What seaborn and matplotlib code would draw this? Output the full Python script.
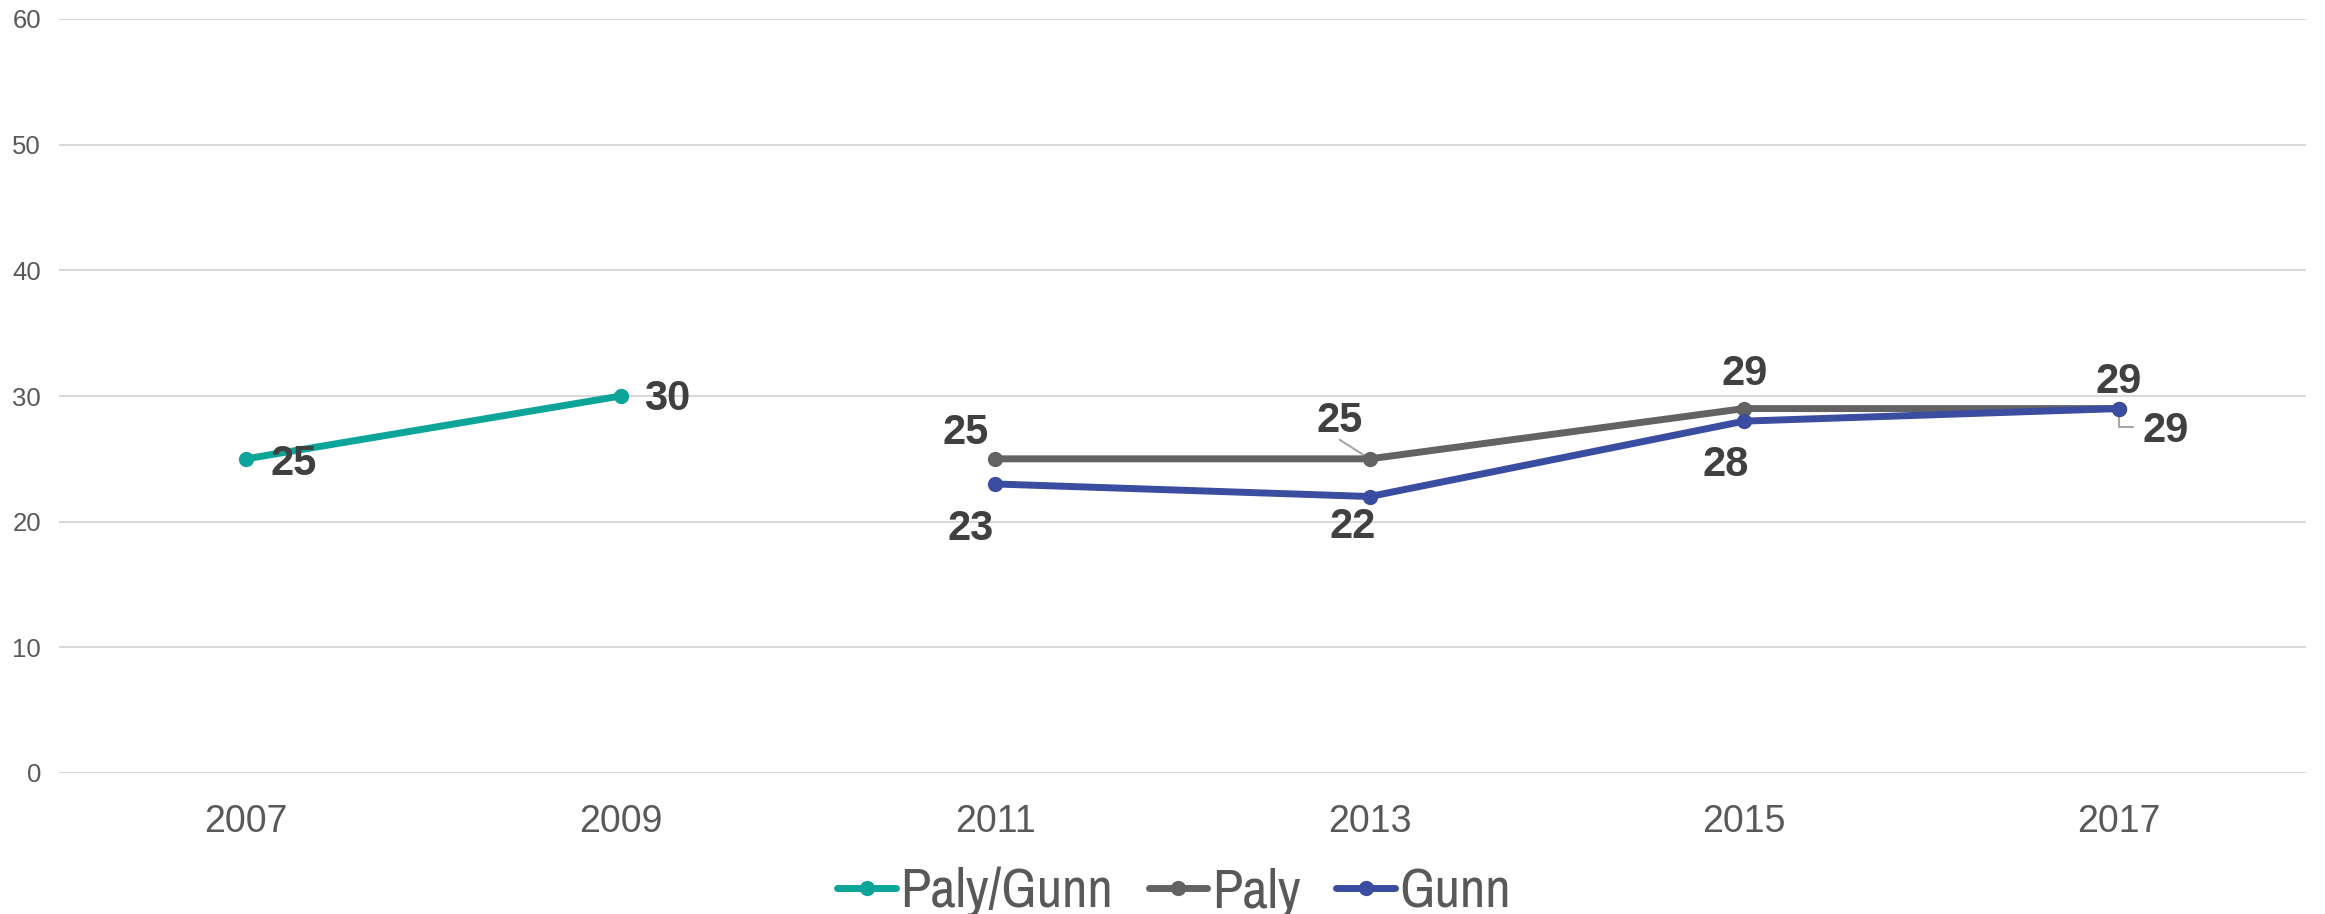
import matplotlib
matplotlib.use("Agg")
import matplotlib.pyplot as plt
import seaborn as sns
import pandas as pd

# Survey years on the category axis
years = ["2007", "2009", "2011", "2013", "2015", "2017"]

# Values per series (year labels and values)
paly_gunn_years = ["2007", "2009"]
paly_gunn_values = [25, 30]
paly_years = ["2011", "2013", "2015", "2017"]
paly_values = [25, 25, 29, 29]
gunn_years = ["2011", "2013", "2015", "2017"]
gunn_values = [23, 22, 28, 29]

series_names = ["Paly/Gunn", "Paly", "Gunn"]
series_colors = ["#0DA59A", "#636363", "#3A4DA0"]

y_ticks = [0, 10, 20, 30, 40, 50, 60]

rows = []
for name, yrs, vals in [("Paly/Gunn", paly_gunn_years, paly_gunn_values),
                        ("Paly", paly_years, paly_values),
                        ("Gunn", gunn_years, gunn_values)]:
    for yr, v in zip(yrs, vals):
        rows.append({"series": name, "pos": years.index(yr), "value": v})
df = pd.DataFrame(rows)

sns.set_theme(style="white")
plt.rcParams["font.family"] = ["Liberation Sans", "DejaVu Sans"]

W, H, DPI = 2325, 914, 100
fig = plt.figure(figsize=(W / DPI, H / DPI), dpi=DPI)
ax = fig.add_axes([59 / W, 1 - 773 / H, (2306 - 59) / W, (773 - 19) / H])

sns.lineplot(data=df, x="pos", y="value", hue="series", hue_order=series_names,
             palette=dict(zip(series_names, series_colors)), marker="o",
             markersize=11, markeredgewidth=0, linewidth=5, ax=ax,
             legend=True, zorder=3)

ax.set_xlim(-0.5, len(years) - 0.5)
ax.set_ylim(0, 60)
ax.set_xticks(range(len(years)))
ax.set_xticklabels(years)
ax.set_yticks(y_ticks)
ax.set_xlabel("")
ax.set_ylabel("")
ax.yaxis.grid(True, color="#D9D9D9", linewidth=1.5)
ax.xaxis.grid(False)
for s in ax.spines.values():
    s.set_visible(False)
ax.tick_params(axis="y", length=0, pad=13, labelsize=18.5, labelcolor="#595959")
ax.tick_params(axis="x", length=0, pad=22, labelsize=27, labelcolor="#595959")

# Data labels: offsets in pixels (x right, y up), optional leader line style
label_specs = {
    "Paly/Gunn": [(47, -5, None), (46, -3, None)],
    "Paly": [(-30, 26, None), (-30, 38, "straight"), (0, 35, None), (0, 27, None)],
    "Gunn": [(-25, -45, None), (-17, -30, None), (-19, -44, None), (47, -22, "elbow")],
}
series_data = {"Paly/Gunn": (paly_gunn_years, paly_gunn_values),
               "Paly": (paly_years, paly_values),
               "Gunn": (gunn_years, gunn_values)}
for name in series_names:
    yrs, vals = series_data[name]
    for (dx, dy, leader), yr, v in zip(label_specs[name], yrs, vals):
        x = years.index(yr)
        ax.annotate(str(v), xy=(x, v), xytext=(dx, dy), textcoords="offset pixels",
                    ha="center", va="center", fontsize=30, fontweight="bold",
                    color="#404040", zorder=5)
        if leader == "straight":
            ax.annotate("", xy=(x, v), xytext=(dx, dy - 19), textcoords="offset pixels",
                        arrowprops=dict(arrowstyle="-", color="#A6A6A6", lw=1.5,
                                        shrinkA=0, shrinkB=2), zorder=2)
        elif leader == "elbow":
            ax.annotate("", xy=(x, v), xytext=(dx - 33, dy + 4), textcoords="offset pixels",
                        arrowprops=dict(arrowstyle="-", color="#A6A6A6", lw=1.5,
                                        shrinkA=0, shrinkB=0,
                                        connectionstyle="angle,angleA=0,angleB=90,rad=0"),
                        zorder=2)

handles, labels = ax.get_legend_handles_labels()
ax.get_legend().remove()
fig.legend(handles, labels, loc="center", bbox_to_anchor=(0.505, 0.024), ncol=3,
           frameon=False, handlelength=1.05, handletextpad=0.08, columnspacing=0.65,
           prop={"family": ["Archivo Narrow", "Liberation Sans", "DejaVu Sans"],
                 "size": 40}, labelcolor="#595959")

fig.savefig("out.png", dpi=DPI, facecolor="white")
